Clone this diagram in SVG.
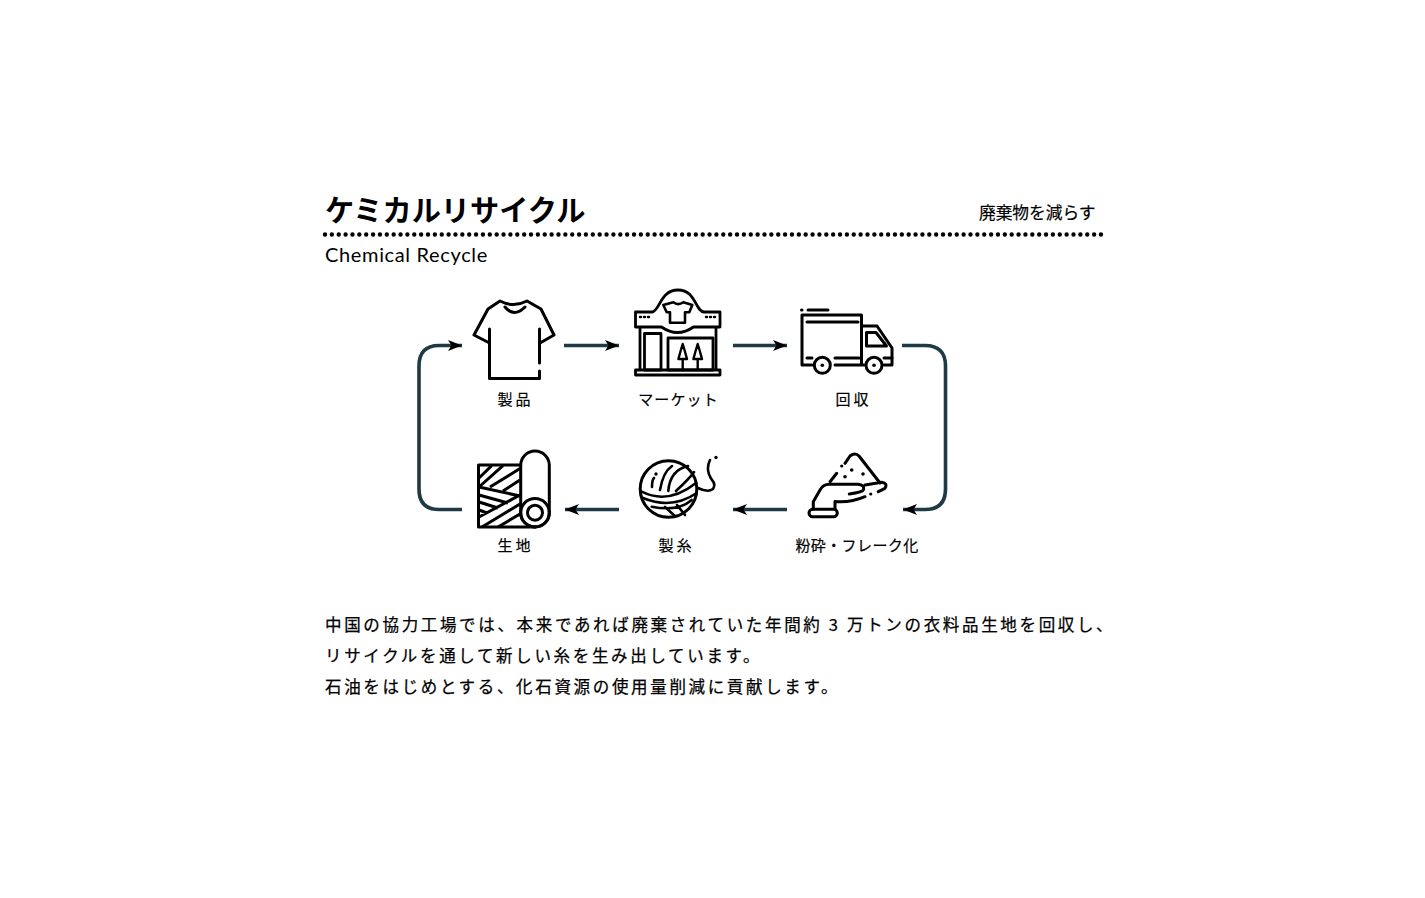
<svg xmlns="http://www.w3.org/2000/svg" width="1425" height="898" viewBox="0 0 1425 898">
<style>
.bg{fill:#fff}
text{font-family:"Noto Sans CJK JP","Noto Sans",sans-serif;fill:#000}
.lbl{font-size:15px;text-anchor:middle;stroke:#000;stroke-width:.2px}
.body{font-size:16.5px;letter-spacing:2.66px;stroke:#000;stroke-width:.25px}
.ic{fill:none;stroke:#000;stroke-width:3;stroke-linecap:round;stroke-linejoin:round}
.ic2{fill:none;stroke:#000;stroke-width:2.4;stroke-linecap:round;stroke-linejoin:round}
.dot{fill:#000}
.conn{fill:none;stroke:#1f3a44;stroke-width:3.6}
</style>
<defs>
<marker id="ah" markerUnits="userSpaceOnUse" markerWidth="16" markerHeight="14" refX="14" refY="7" orient="auto">
<path d="M0 1.500L14 7L0 12.500L3.500 7Z" fill="#000"/>
</marker>
</defs>
<rect class="bg" width="1425" height="898"/>
<g id="header">
<text x="325" y="221" font-weight="700" style="font-size:29.200px">ケミカルリサイクル</text>
<text x="979" y="218.500" style="font-size:16.700px;stroke:#000;stroke-width:.2px">廃棄物を減らす</text>
<line x1="325" y1="234.500" x2="1101" y2="234.500" stroke="#000" stroke-width="4.400" stroke-linecap="round" stroke-dasharray="0 6.867"/>
<text x="325" y="262" style="font-family:Lato,'Noto Sans',sans-serif;font-size:20px;letter-spacing:.65px">Chemical Recycle</text>
</g>
<g id="connectors">
<path class="conn" marker-end="url(#ah)" d="M564 345.500H619"/>
<path class="conn" marker-end="url(#ah)" d="M733 345.500H787"/>
<path class="conn" marker-end="url(#ah)" d="M902 345.500H925Q945.500 345.500 945.500 366V489Q945.500 509.500 925 509.500H903"/>
<path class="conn" marker-end="url(#ah)" d="M787 509.500H733"/>
<path class="conn" marker-end="url(#ah)" d="M619 509.500H565"/>
<path class="conn" marker-end="url(#ah)" d="M462 509.500H439Q419 509.500 419 489V366Q419 345.500 439 345.500H462"/>
</g>
<g id="node-product">
<path class="ic" d="M489.500 329V378.500H539.500V371M539.500 363V329M489.500 343L474 335L488 309L500 301Q513.500 308 527 301L541 309L554 335L540 343"/>
<path class="ic" d="M505 307Q514 318 525 307"/>
<text class="lbl" x="515.500" y="404.500" style="letter-spacing:3px">製品</text>
</g>
<g id="node-market">
<path class="ic" d="M635.500 312H652C660 311 660 290 678 290C696 290 695 311 704 312H720V327H693.500Q677.500 338 661.500 327H635.500ZM640 327V370M716 327V370M635.500 370H720V375H635.500Z" style="stroke-width:2.800"/>
<path class="ic" d="M663.300 305L673.300 302.300Q678 306 683.300 302.300L692.300 305L689.300 312.300H685V322.700H670V312.300H666.700Z" style="stroke-width:2.600"/>
<rect class="ic" x="644.500" y="333.500" width="16.500" height="36.500" style="stroke-width:2.800"/>
<rect class="ic" x="668" y="338" width="45" height="32" style="stroke-width:2.800"/>
<path class="ic2" d="M682.700 344L684.800 351L687 359H678.400L680.600 351ZM682.700 359V370M697.700 344L699.800 351L702 359H693.400L695.600 351ZM697.700 359V370"/>
<path class="ic2" d="M640 317H641M644 317H645M648 317H649M706 317H707M710 317H711M714 317H715"/>
<text class="lbl" x="678.500" y="404.500" style="letter-spacing:1.100px">マーケット</text>
</g>
<g id="node-truck">
<path class="ic" d="M812 365H802V315H861.500V365M835 365H861.500M807 322H858M807 358H812M835 358H859M801.500 310H802M808 310H828M861.500 326H877L892 348V365H884M864 365H861.500"/>
<path class="ic" d="M866.500 332.500H876L886.500 346H866.500Z"/>
<circle class="ic" cx="822.300" cy="365.300" r="8"/><circle class="dot" cx="822.300" cy="365.300" r="1.800"/>
<circle class="ic" cx="874" cy="365.300" r="8"/><circle class="dot" cx="874" cy="365.300" r="1.800"/>
<path class="ic" d="M884 358H892"/>
<text class="lbl" x="853.500" y="404.500" style="letter-spacing:3px">回収</text>
</g>
<g id="node-fabric">
<rect class="ic" x="520.700" y="451" width="28.600" height="76" rx="14.300"/>
<circle class="ic" cx="535" cy="512.700" r="14.300"/>
<circle class="ic" cx="535" cy="512.700" r="7.500"/>
<path class="ic" d="M520.700 465H478.500V527H535"/>
<path class="ic" style="stroke-linecap:butt" d="M479 478L491.700 465.700M479 487L503 465.700M490 487L520 468.500M503 491L520 480M479 487L520 496M479 495L508 503M479 502L498 508M479 510L487 513M479 517L520 495M482 527L520 504M498 527L520 514"/>
<text class="lbl" x="515.500" y="550.500" style="letter-spacing:3px">生地</text>
</g>
<g id="node-yarn">
<circle class="ic" cx="668.500" cy="489" r="28.300"/>
<path class="ic" style="stroke-width:2.600" d="M641.700 491.700Q668 505 696 483M643 498Q672 510 696.700 493M651.700 506.700Q678 512 691.700 500M665 507L675 516M677 505L685 515M668.300 491Q670 470 688 466M676 491Q690 478 694 472M652 487Q652 480 654 478M660 490Q663 472 672 466M698 488Q708 493 713 489Q716 484 712 480Q705 470 710 460"/>
<circle class="dot" cx="656" cy="474" r="1.700"/>
<circle class="dot" cx="716" cy="457.500" r="1.700"/>
<text class="lbl" x="676.500" y="550.500" style="letter-spacing:3px">製糸</text>
</g>
<g id="node-flake">
<path class="ic" d="M830 481.700L836.700 473.300M845 463.300L850 456Q855 452 859 456L880 483M813.300 509V501.700L820 490Q823 484 830 484.300H858Q865 485 863.300 490Q862.700 492 849.300 494M865 485L881.700 482.300Q888 483.300 885 488.300L878.300 491.700M865 496.700Q850 503 835 501.500V509"/>
<rect class="ic" x="809" y="509.300" width="28.300" height="7.400" rx="3.700"/>
<circle class="dot" cx="841.700" cy="466" r="1.600"/><circle class="dot" cx="851.700" cy="470" r="1.800"/><circle class="dot" cx="845" cy="476.700" r="1.800"/><circle class="dot" cx="863" cy="474" r="1.800"/><circle class="dot" cx="870.700" cy="494" r="1.600"/>
<text class="lbl" x="857" y="550.500" style="letter-spacing:.4px">粉砕・フレーク化</text>
</g>
<g id="description">
<text class="body" x="325" y="630.500">中国の協力工場では、本来であれば廃棄されていた年間約 3 万トンの衣料品生地を回収し、</text>
<text class="body" x="325" y="661.500">リサイクルを通して新しい糸を生み出しています。</text>
<text class="body" x="325" y="692.500">石油をはじめとする、化石資源の使用量削減に貢献します。</text>
</g>
</svg>
